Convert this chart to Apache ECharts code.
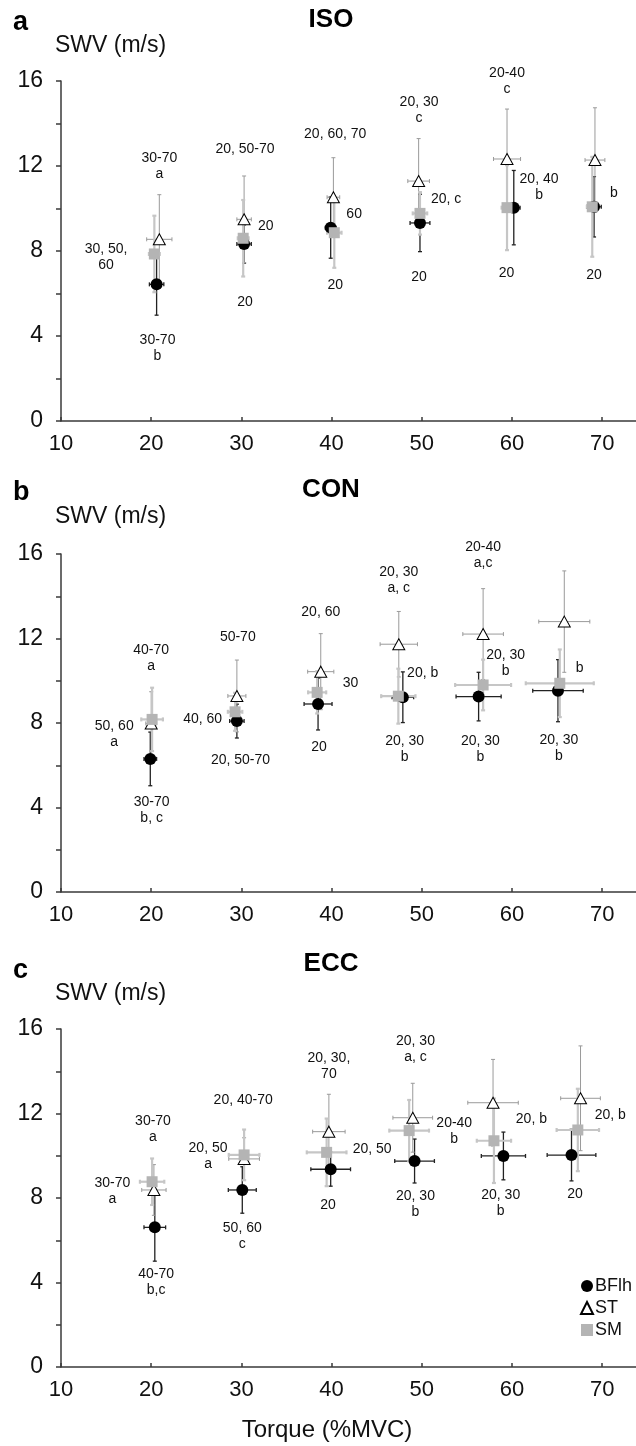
<!DOCTYPE html>
<html>
<head>
<meta charset="utf-8">
<script src="https://cdn.jsdelivr.net/npm/echarts@6/dist/echarts.min.js"></script>
<style>
  html, body { margin: 0; padding: 0; background: #fff; }
  #chart { width: 636px; height: 1446px; }
</style>
</head>
<body>
<div id="chart"></div>
<script>
// axis ticks
const torqueTicks = [10, 20, 30, 40, 50, 60, 70]
const swvTicks = [0, 4, 8, 12, 16]

// each row: [torque %MVC, SWV m/s, torque SD, SWV SD]
const isoBFlh = [[20.6, 6.43, 0.8, 1.45], [30.3, 8.33, 0.8, 0.9], [39.9, 9.1, 0.6, 1.44], [49.8, 9.32, 1.1, 1.35], [60.2, 10.04, 0.7, 1.75], [69.1, 10.08, 0.8, 1.42]]
const isoST = [[20.9, 8.55, 1.4, 2.1], [30.3, 9.49, 0.8, 2.04], [40.2, 10.53, 0.7, 1.86], [49.65, 11.29, 1.2, 2.0], [59.45, 12.33, 1.5, 2.35], [69.2, 12.28, 1.1, 2.46]]
const isoSM = [[20.35, 7.86, 0.6, 1.8], [30.2, 8.6, 0.6, 1.8], [40.3, 8.86, 0.8, 1.65], [49.8, 9.77, 0.8, 1.0], [59.45, 10.04, 0.6, 2.0], [68.9, 10.08, 0.6, 2.35]]

const conBFlh = [[19.9, 6.3, 0.7, 1.27], [29.5, 8.09, 0.8, 0.8], [38.5, 8.9, 1.55, 1.23], [47.9, 9.22, 1.2, 1.2], [56.3, 9.25, 2.5, 1.15], [65.1, 9.53, 2.8, 1.47]]
const conST = [[20.0, 7.98, 0.6, 1.5], [29.5, 9.28, 1.0, 1.7], [38.8, 10.43, 1.45, 1.8], [47.45, 11.73, 2.07, 1.55], [56.8, 12.21, 2.25, 2.15], [65.8, 12.8, 2.83, 2.4]]
const conSM = [[20.1, 8.17, 1.2, 1.5], [29.3, 8.53, 0.8, 0.9], [38.4, 9.45, 1.0, 1.0], [47.4, 9.27, 1.9, 1.3], [56.8, 9.8, 3.1, 1.2], [65.3, 9.88, 3.77, 1.6]]

const eccBFlh = [[20.4, 6.61, 1.2, 1.6], [30.1, 8.38, 1.55, 1.1], [39.9, 9.36, 2.2, 0.8], [49.2, 9.75, 2.2, 1.04], [59.05, 9.99, 2.45, 1.13], [66.6, 10.03, 2.7, 1.22]]
const eccST = [[20.3, 8.38, 1.35, 1.2], [30.3, 9.85, 1.7, 1.0], [39.7, 11.14, 1.8, 1.77], [49.0, 11.8, 2.2, 1.63], [57.9, 12.51, 2.8, 2.05], [67.6, 12.72, 2.2, 2.48]]
const eccSM = [[20.1, 8.77, 1.35, 1.1], [30.3, 10.04, 1.7, 1.2], [39.45, 10.16, 2.2, 1.6], [48.6, 11.19, 2.2, 1.45], [58.0, 10.71, 1.9, 2.0], [67.3, 11.22, 2.35, 1.95]]

// significance notes: [torque, SWV, text]
const isoNotes = [
  [20.9, 12.0, '30-70\na'], [15.0, 7.73, '30, 50,\n60'], [20.7, 3.44, '30-70\nb'],
  [30.4, 12.78, '20, 50-70'], [32.7, 9.18, '20'], [30.4, 5.58, '20'],
  [40.4, 13.49, '20, 60, 70'], [42.5, 9.73, '60'], [40.4, 6.37, '20'],
  [49.7, 14.64, '20, 30\nc'], [52.7, 10.46, '20, c'], [49.7, 6.79, '20'],
  [59.45, 16.0, '20-40\nc'], [63.0, 11.02, '20, 40\nb'], [59.4, 6.98, '20'],
  [69.3, 16.03, '20-40\nc'], [71.3, 10.7, 'b'], [69.1, 6.87, '20']
]
const conNotes = [
  [20.0, 11.08, '40-70\na'], [15.9, 7.49, '50, 60\na'], [20.05, 3.87, '30-70\nb, c'],
  [29.6, 12.06, '50-70'], [25.7, 8.17, '40, 60'], [29.9, 6.23, '20, 50-70'],
  [38.8, 13.27, '20, 60'], [42.1, 9.88, '30'], [38.6, 6.88, '20'],
  [47.45, 14.78, '20, 30\na, c'], [50.1, 10.38, '20, b'], [48.1, 6.77, '20, 30\nb'],
  [56.8, 15.96, '20-40\na,c'], [59.3, 10.84, '20, 30\nb'], [56.5, 6.78, '20, 30\nb'],
  [65.8, 16.76, '20, 30\na,c'], [67.5, 10.62, 'b'], [65.2, 6.81, '20, 30\nb']
]
const eccNotes = [
  [20.2, 11.27, '30-70\na'], [15.7, 8.34, '30-70\na'], [20.55, 4.0, '40-70\nb,c'],
  [30.2, 12.61, '20, 40-70'], [26.3, 10.0, '20, 50\na'], [30.1, 6.18, '50, 60\nc'],
  [39.7, 14.26, '20, 30,\n70'], [44.5, 10.32, '20, 50'], [39.6, 7.67, '20'],
  [49.3, 15.04, '20, 30\na, c'], [53.6, 11.15, '20-40\nb'], [49.3, 7.71, '20, 30\nb'],
  [57.7, 16.03, '20, 30\na, c'], [62.15, 11.74, '20, b'], [58.75, 7.74, '20, 30\nb'],
  [67.7, 16.58, '20-40\nc'], [70.9, 11.9, '20, b'], [67.0, 8.16, '20']
]

const FONT = '"Liberation Sans", Arial, Helvetica, sans-serif'
const AXIS = { color: '#3a3a3a', width: 1.5 }

const panels = [
  { title: 'ISO', letter: 'a', top: 81, height: 340, titleY: 20, letterY: 23, nameY: 46, bfl: isoBFlh, st: isoST, sm: isoSM, notes: isoNotes },
  { title: 'CON', letter: 'b', top: 554, height: 338, titleY: 490, letterY: 493, nameY: 517, bfl: conBFlh, st: conST, sm: conSM, notes: conNotes },
  { title: 'ECC', letter: 'c', top: 1029, height: 338, titleY: 964, letterY: 971, nameY: 994, bfl: eccBFlh, st: eccST, sm: eccSM, notes: eccNotes }
]

const muscles = [
  { name: 'BFlh', key: 'bfl', symbol: 'circle', size: 12, item: { color: '#000', opacity: 1 }, err: { stroke: '#222', lineWidth: 1.3 }, z: 3 },
  { name: 'ST', key: 'st', symbol: 'triangle', size: [12, 11], item: { color: '#fff', borderColor: '#000', borderWidth: 1, opacity: 1 }, err: { stroke: '#9a9a9a', lineWidth: 1 }, z: 4 },
  { name: 'SM', key: 'sm', symbol: 'rect', size: 11, item: { color: '#b4b4b4', opacity: 1 }, err: { stroke: '#c6c6c6', lineWidth: 2.2 }, z: 5 }
]

function errorBars(style) {
  return function (params, api) {
    const x = api.value(0), y = api.value(1), dx = api.value(2), dy = api.value(3)
    const l = api.coord([x - dx, y]), r = api.coord([x + dx, y])
    const t = api.coord([x, y + dy]), b = api.coord([x, y - dy])
    const cap = 2
    const s = Object.assign({ fill: null }, style)
    const line = (x1, y1, x2, y2) => ({ type: 'line', shape: { x1, y1, x2, y2 }, style: s })
    return {
      type: 'group',
      children: [
        line(l[0], l[1], r[0], r[1]),
        line(t[0], t[1], b[0], b[1]),
        line(l[0], l[1] - cap, l[0], l[1] + cap),
        line(r[0], r[1] - cap, r[0], r[1] + cap),
        line(t[0] - cap, t[1], t[0] + cap, t[1]),
        line(b[0] - cap, b[1], b[0] + cap, b[1])
      ]
    }
  }
}

const grid = [], xAxis = [], yAxis = [], series = [], graphic = []

panels.forEach((p, i) => {
  grid.push({ left: 61, right: 0, top: p.top, height: p.height })
  xAxis.push({
    gridIndex: i, type: 'value', min: 10, max: 73.75,
    axisLine: { show: true, onZero: false, lineStyle: AXIS },
    axisTick: { show: true, inside: true, length: 4, customValues: torqueTicks, lineStyle: AXIS },
    axisLabel: { customValues: torqueTicks, fontSize: 22, margin: 12, color: '#111', fontFamily: FONT,
      formatter: v => (v % 10 === 0 ? String(v) : '') },
    splitLine: { show: false }
  })
  yAxis.push({
    gridIndex: i, type: 'value', min: 0, max: 16, interval: 4,
    axisLine: { show: true, lineStyle: AXIS },
    axisTick: { show: true, length: 5, customValues: swvTicks, lineStyle: AXIS },
    minorTick: { show: true, splitNumber: 2, length: 5, lineStyle: AXIS },
    axisLabel: { customValues: swvTicks, fontSize: 23, margin: 18, color: '#111', fontFamily: FONT },
    splitLine: { show: false }
  })

  muscles.forEach(m => {
    series.push({
      name: m.name + ' SD', type: 'custom', xAxisIndex: i, yAxisIndex: i,
      renderItem: errorBars(m.err), data: p[m.key], encode: { x: 0, y: 1 },
      z: m.z - 2, silent: true
    })
  })
  muscles.forEach(m => {
    series.push({
      name: m.name, type: 'scatter', xAxisIndex: i, yAxisIndex: i,
      symbol: m.symbol, symbolSize: m.size, itemStyle: m.item,
      data: p[m.key].map(r => [r[0], r[1]]), z: m.z
    })
  })
  series.push({
    name: 'notes ' + p.title, type: 'scatter', xAxisIndex: i, yAxisIndex: i,
    symbolSize: 0, silent: true, z: 6, itemStyle: { opacity: 1 },
    data: p.notes.map(n => ({ value: [n[0], n[1]], name: n[2] })),
    label: { show: true, position: 'inside', formatter: q => q.name, fontSize: 14, lineHeight: 16,
      color: '#111', fontFamily: FONT, align: 'center', verticalAlign: 'middle' },
    labelLayout: { hideOverlap: false }
  })

  graphic.push(
    { type: 'text', x: 331, y: p.titleY, style: { text: p.title, font: 'bold 26px ' + FONT, fill: '#000', align: 'center', verticalAlign: 'middle' } },
    { type: 'text', x: 13, y: p.letterY, style: { text: p.letter, font: 'bold 27px ' + FONT, fill: '#000', align: 'left', verticalAlign: 'middle' } },
    { type: 'text', x: 55, y: p.nameY, style: { text: 'SWV (m/s)', font: '23px ' + FONT, fill: '#111', align: 'left', verticalAlign: 'middle' } }
  )
})

graphic.push({ type: 'text', x: 327, y: 1430, style: { text: 'Torque (%MVC)', font: '24px ' + FONT, fill: '#111', align: 'center', verticalAlign: 'middle' } })

const chart = echarts.init(document.getElementById('chart'))
chart.setOption({
  animation: false,
  backgroundColor: '#fff',
  grid, xAxis, yAxis, series, graphic,
  legend: {
    data: ['BFlh', 'ST', 'SM'], orient: 'vertical', left: 575, top: 1272,
    itemWidth: 12, itemHeight: 12, itemGap: 4,
    textStyle: { fontSize: 18, color: '#111', fontFamily: FONT, padding: [0, 0, 0, -3] }
  }
})
</script>
</body>
</html>
